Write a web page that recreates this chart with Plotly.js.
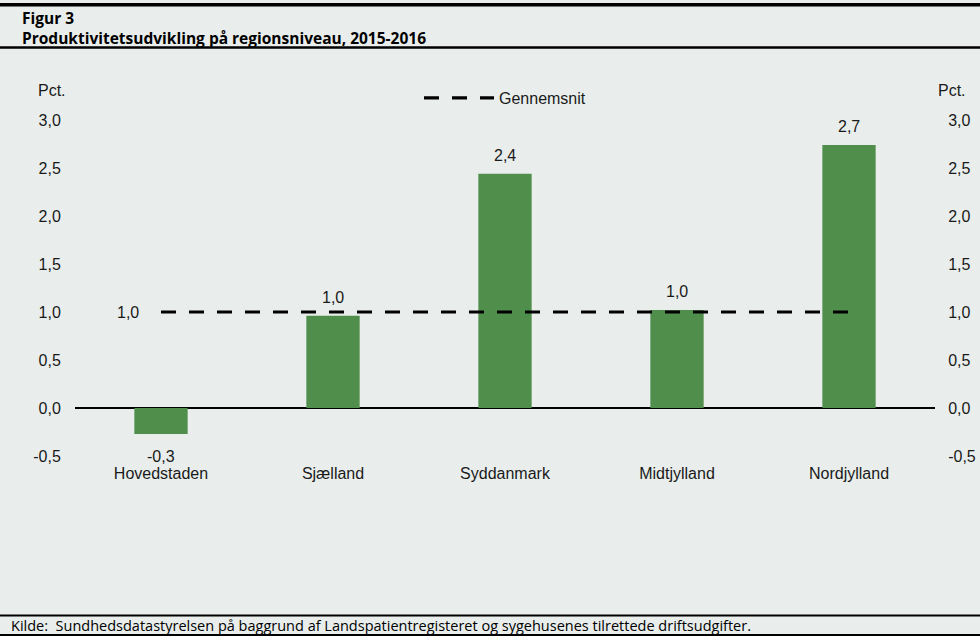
<!DOCTYPE html>
<html><head><meta charset="utf-8">
<script src="https://cdn.plot.ly/plotly-3.0.1.min.js"></script>
<style>html,body{margin:0;padding:0;background:#e9eeec;} #chart{width:980px;height:636px;}</style>
</head><body><div id="chart"></div>
<script>
const categories = ['Hovedstaden', 'Sjælland', 'Syddanmark', 'Midtjylland', 'Nordjylland'];
const values = [-0.27, 0.96, 2.44, 1.02, 2.74];
const average = [1.0, 1.0, 1.0, 1.0, 1.0];
const averageLabel = 1.0;
const tickValues = [-0.5, 0, 0.5, 1, 1.5, 2, 2.5, 3];
const tickLabels = ['-0,5', '0,0', '0,5', '1,0', '1,5', '2,0', '2,5', '3,0'];
const avgName = 'Gennemsnit';
const figLabel = 'Figur 3';
const figTitle = 'Produktivitetsudvikling på regionsniveau, 2015-2016';
const sourceText = 'Kilde:  Sundhedsdatastyrelsen på baggrund af Landspatientregisteret og sygehusenes tilrettede driftsudgifter.';
const unitText = 'Pct.';

const W = 980, H = 636, L = 75, R = 45, T = 120, B = 180;
const pw = W - L - R, ph = H - T - B;
const px = x => (x - L) / pw;
const py = y => (H - B - y) / ph;
const fmt = v => v.toFixed(1).replace('.', ',');

const chartFont = {family: 'Liberation Sans, Arial, sans-serif', size: 16, color: '#1a1a1a'};
const headFont = {family: 'Open Sans, Calibri, sans-serif', size: 15.5, color: '#000'};

const bg = '#e9eeec';

const traces = [
  {type: 'bar', x: categories, y: values, width: 0.31, marker: {color: '#508e4c'},
   showlegend: false, hoverinfo: 'skip'},
  {type: 'scatter', mode: 'lines', x: categories, y: average, name: avgName,
   line: {color: '#000', width: 3.2, dash: '15px,13px'}, hoverinfo: 'skip'},
  {type: 'scatter', mode: 'none', x: categories, y: values, yaxis: 'y2',
   showlegend: false, hoverinfo: 'skip'}
];

const annotations = [];
values.forEach((v, i) => {
  annotations.push({x: categories[i], y: v, xref: 'x', yref: 'y', text: fmt(v), showarrow: false,
    yanchor: v >= 0 ? 'bottom' : 'top', yshift: v >= 0 ? 8 : -12, font: chartFont});
});
annotations.push({x: categories[0], y: averageLabel, xref: 'x', yref: 'y', text: fmt(averageLabel),
  showarrow: false, xanchor: 'right', xshift: -20, yanchor: 'middle', font: chartFont});
annotations.push({x: px(36), y: py(90), xref: 'paper', yref: 'paper', text: unitText, showarrow: false,
  xanchor: 'left', yanchor: 'middle', font: chartFont});
annotations.push({x: px(936), y: py(90), xref: 'paper', yref: 'paper', text: unitText, showarrow: false,
  xanchor: 'left', yanchor: 'middle', font: chartFont});
annotations.push({x: px(21), y: py(28), xref: 'paper', yref: 'paper',
  text: '<b>' + figLabel + '</b><br><b>' + figTitle + '</b>', showarrow: false, align: 'left',
  xanchor: 'left', yanchor: 'middle', borderpad: 0, font: headFont});
annotations.push({x: px(10), y: py(625), xref: 'paper', yref: 'paper', text: sourceText, showarrow: false,
  xanchor: 'left', yanchor: 'middle', borderpad: 0,
  font: {family: 'Open Sans, Calibri, sans-serif', size: 14.5, color: '#000'}});

const hline = (y, w) => ({type: 'line', xref: 'paper', yref: 'paper', x0: px(0), x1: px(W), y0: py(y), y1: py(y),
  line: {color: '#000', width: w}});

const layout = {
  width: W, height: H,
  margin: {l: L, r: R, t: T, b: B, pad: 0},
  paper_bgcolor: bg, plot_bgcolor: bg,
  separators: ',.',
  font: chartFont,
  showlegend: true,
  legend: {orientation: 'h', x: 0.5, xanchor: 'center', y: py(98), yanchor: 'middle',
    bgcolor: 'rgba(0,0,0,0)', font: chartFont, itemwidth: 70},
  xaxis: {type: 'category', range: [-0.5, 4.5], showline: false, showgrid: false, zeroline: false,
    ticks: 'outside', ticklen: 3, tickcolor: 'rgba(0,0,0,0)', tickfont: chartFont, fixedrange: true},
  yaxis: {range: [-0.5, 3], tickvals: tickValues, ticktext: tickLabels, showgrid: false,
    zeroline: true, zerolinecolor: '#000', zerolinewidth: 1.5, showline: false,
    ticks: 'outside', ticklen: 10, tickcolor: 'rgba(0,0,0,0)', tickfont: chartFont, fixedrange: true},
  yaxis2: {overlaying: 'y', side: 'right', range: [-0.5, 3], tickvals: tickValues, ticktext: tickLabels,
    showgrid: false, zeroline: false, showline: false,
    ticks: 'outside', ticklen: 9, tickcolor: 'rgba(0,0,0,0)', tickfont: chartFont, fixedrange: true},
  annotations: annotations,
  shapes: [hline(4.7, 3.5), hline(47.5, 2.5), hline(615.5, 2), hline(635, 2)]
};

Plotly.newPlot('chart', traces, layout, {displayModeBar: false, staticPlot: true});
</script>
</body></html>
